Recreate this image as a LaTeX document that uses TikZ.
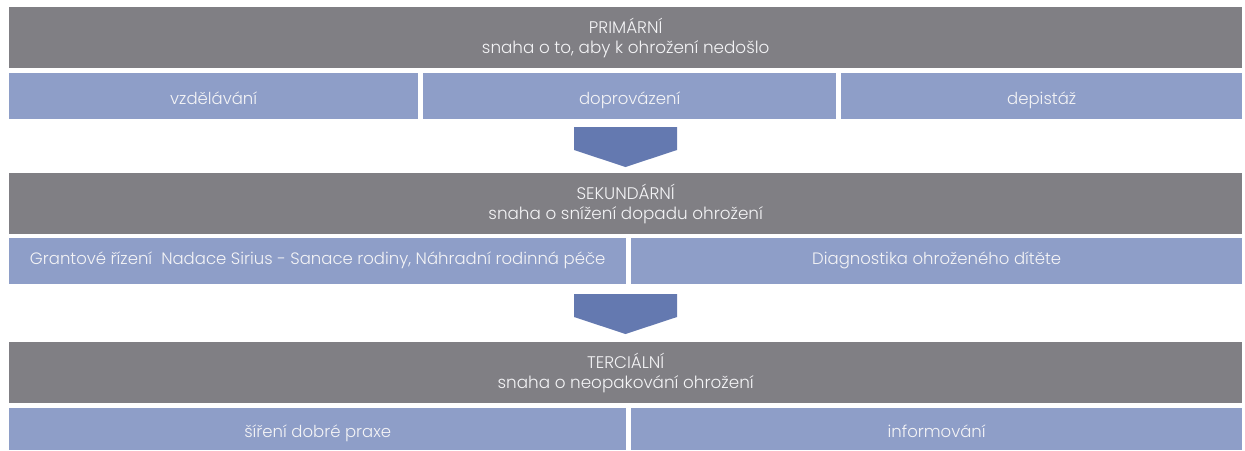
\documentclass[tikz,border=0pt]{standalone}
\usepackage{fontspec}
\setmainfont{Poppins Light}
\definecolor{grayband}{HTML}{807F84}
\definecolor{bluebox}{HTML}{8E9EC8}
\definecolor{arrowblue}{HTML}{6479B0}
\definecolor{txt}{HTML}{F4F4F6}
\begin{document}
\begin{tikzpicture}[x=1pt,y=-1pt,
  band/.style={fill=grayband, draw=none, inner sep=0pt, text=txt, align=center,
    font=\fontsize{16.8}{20}\selectfont, anchor=north west, minimum height=61pt},
  item/.style={fill=bluebox, draw=none, inner sep=0pt, text=txt,
    font=\fontsize{16.5}{18}\selectfont, anchor=north west, minimum height=46pt,
    text height=19pt, text depth=3pt},
  itemmid/.style={item, text height=9pt, text depth=3pt},
  downarrow/.style={fill=arrowblue, draw=none}]
\useasboundingbox (0,0) rectangle (1245,450);
% level 1
\node[band, minimum width=1233pt] (p) at (9,7) {PRIMÁRNÍ\\snaha o to, aby k ohrožení nedošlo};
\node[item, minimum width=409pt] (p1) at (9,73) {vzdělávání};
\node[item, minimum width=413pt] (p2) at (423,73) {doprovázení};
\node[item, minimum width=401pt] (p3) at (841,73) {depistáž};
\fill[downarrow] (574,127) -- (677,127) -- (677,150) -- (625.5,167) -- (574,150) -- cycle;
% level 2
\node[band, minimum width=1233pt] (s) at (9,173) {SEKUNDÁRNÍ\\snaha o snížení dopadu ohrožení};
\node[itemmid, minimum width=617pt] (s1) at (9,238) {Grantové řízení\ \ Nadace Sirius - Sanace rodiny, Náhradní rodinná péče\hspace{8pt}};
\node[itemmid, minimum width=611pt] (s2) at (631,238) {Diagnostika ohroženého dítěte};
\fill[downarrow] (574,294) -- (677,294) -- (677,317) -- (625.5,334) -- (574,317) -- cycle;
% level 3
\node[band, minimum width=1233pt] (t) at (9,342) {TERCIÁLNÍ\\snaha o neopakování ohrožení};
\node[item, minimum width=617pt, minimum height=42pt] (t1) at (9,408) {šíření dobré praxe};
\node[item, minimum width=611pt, minimum height=42pt] (t2) at (631,408) {informování};
\end{tikzpicture}
\end{document}
